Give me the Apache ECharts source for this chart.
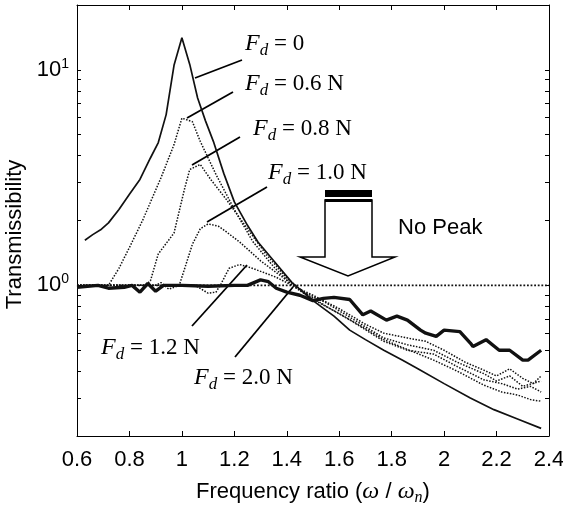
<!DOCTYPE html>
<html>
<head>
<meta charset="utf-8">
<script src="https://cdn.jsdelivr.net/npm/echarts@6/dist/echarts.min.js"></script>
<style>
  html, body { margin: 0; padding: 0; background: #fff; }
  #chart { width: 563px; height: 505px; }
</style>
</head>
<body>
<div id="chart"></div>
<script>
// frequency ratio ticks and transmissibility ticks
const xTicks = [0.6, 0.8, 1, 1.2, 1.4, 1.6, 1.8, 2, 2.2, 2.4];
const yLabelTicks = [1, 10];
const yMinorTicks = [0.2, 0.3, 0.4, 0.5, 0.6, 0.7, 0.8, 0.9, 1, 2, 3, 4, 5, 6, 7, 8, 9, 10, 20];

// measured curves, [frequency ratio, transmissibility]
const fd0 = [[0.63,1.62],[0.66,1.72],[0.69,1.81],[0.72,1.95],[0.76,2.25],[0.8,2.65],[0.84,3.1],[0.88,3.9],
  [0.91,4.6],[0.94,6.2],[0.97,10.5],[1.0,14.1],[1.03,10.6],[1.06,7.4],[1.09,5.8],[1.12,4.66],[1.16,3.3],
  [1.2,2.44],[1.25,1.9],[1.29,1.59],[1.35,1.3],[1.42,1.03],[1.5,0.85],[1.58,0.72],[1.64,0.62],[1.7,0.56],
  [1.77,0.5],[1.84,0.45],[1.9,0.41],[2.0,0.35],[2.1,0.3],[2.19,0.265],[2.28,0.24],[2.37,0.217]];
const fd06 = [[0.6,1],[0.72,1],[0.76,1.2],[0.8,1.5],[0.85,2.0],[0.92,3.15],[0.97,4.5],[1.0,5.97],[1.04,5.75],
  [1.07,4.66],[1.13,3.27],[1.2,2.25],[1.27,1.6],[1.35,1.22],[1.42,1.0],[1.5,0.86],[1.6,0.74],[1.7,0.63],
  [1.77,0.56],[1.85,0.51],[1.96,0.45],[2.05,0.4],[2.15,0.345],[2.22,0.32],[2.28,0.31],[2.33,0.295],[2.37,0.29]];
const fd08 = [[0.6,1],[0.86,1],[0.88,1.05],[0.91,1.4],[0.97,1.75],[1.01,2.8],[1.03,3.45],[1.07,3.64],[1.11,3.1],
  [1.17,2.5],[1.25,1.83],[1.32,1.4],[1.4,1.08],[1.47,0.92],[1.55,0.8],[1.65,0.68],[1.77,0.55],[1.86,0.5],
  [1.96,0.48],[2.05,0.42],[2.15,0.365],[2.22,0.35],[2.28,0.33],[2.33,0.34],[2.37,0.32]];
const fd10 = [[0.6,1],[0.9,1],[0.92,1.03],[0.95,0.96],[0.99,1.0],[1.02,1.3],[1.04,1.55],[1.07,1.83],[1.1,1.93],
  [1.14,1.88],[1.17,1.77],[1.22,1.59],[1.3,1.3],[1.38,1.1],[1.45,0.95],[1.55,0.83],[1.65,0.7],[1.77,0.57],
  [1.86,0.53],[1.96,0.5],[2.05,0.44],[2.15,0.39],[2.2,0.36],[2.25,0.38],[2.3,0.34],[2.37,0.36]];
const fd12 = [[0.6,1],[1.05,1],[1.1,0.92],[1.13,0.93],[1.15,1.02],[1.18,1.2],[1.22,1.25],[1.26,1.21],[1.31,1.15],
  [1.36,1.09],[1.42,1.0],[1.5,0.9],[1.6,0.78],[1.7,0.66],[1.77,0.6],[1.86,0.57],[1.93,0.55],[2.0,0.5],
  [2.08,0.44],[2.15,0.405],[2.2,0.38],[2.25,0.41],[2.3,0.37],[2.34,0.35],[2.37,0.38]];
const fd20 = [[0.6,0.98],[0.68,1.0],[0.72,0.97],[0.78,0.98],[0.81,1.0],[0.84,0.93],[0.87,1.02],[0.9,0.94],
  [0.93,1.0],[1.0,1.0],[1.1,0.99],[1.2,1.0],[1.25,1.0],[1.3,1.06],[1.33,1.04],[1.36,0.97],[1.4,0.93],
  [1.45,0.9],[1.5,0.85],[1.54,0.87],[1.58,0.88],[1.64,0.86],[1.69,0.73],[1.72,0.76],[1.78,0.69],[1.82,0.72],
  [1.86,0.69],[1.91,0.62],[1.93,0.6],[1.97,0.58],[2.0,0.62],[2.06,0.61],[2.1,0.54],[2.11,0.52],[2.16,0.56],
  [2.21,0.5],[2.25,0.5],[2.3,0.45],[2.32,0.45],[2.37,0.5]];
const unity = [[0.6,1],[2.4,1]];

const chart = echarts.init(document.getElementById('chart'));

const serif = 'Liberation Serif';
const sans = 'Liberation Sans';
const fdRich = {
  f: { fontFamily: serif, fontStyle: 'italic', fontSize: 24, color: '#000' },
  d: { fontFamily: serif, fontStyle: 'italic', fontSize: 17, color: '#000', padding: [14, 0, 0, 0], verticalAlign: 'bottom' },
  t: { fontFamily: serif, fontSize: 23, color: '#000' }
};
function fdLabel(x, y, val) {
  return {
    type: 'text', x: x, y: y,
    style: { text: '{f|F}{d|d}{t| = ' + val + '}', rich: fdRich, verticalAlign: 'middle' }
  };
}
function leader(x1, y1, x2, y2) {
  return { type: 'line', shape: { x1: x1, y1: y1, x2: x2, y2: y2 }, style: { stroke: '#000', lineWidth: 1.8 } };
}

function line(name, data, type, width) {
  return {
    name: name, type: 'line', data: data, showSymbol: false, symbol: 'none',
    lineStyle: { color: '#111', width: width, type: type }, z: 3
  };
}

chart.setOption({
  animation: false,
  backgroundColor: '#fff',
  grid: { left: 77, right: 14, top: 5, bottom: 69, outerBoundsMode: 'none', containLabel: false },
  xAxis: [{
    type: 'value', min: 0.6, max: 2.4, interval: 0.2,
    name: '{a|Frequency ratio (}{w|ω}{a| / }{w|ω}{n|n}{a|)}',
    nameLocation: 'middle', nameGap: 42,
    nameTextStyle: {
      rich: {
        a: { fontFamily: sans, fontSize: 22, color: '#000' },
        w: { fontFamily: serif, fontStyle: 'italic', fontSize: 24, color: '#000' },
        n: { fontFamily: serif, fontStyle: 'italic', fontSize: 16, color: '#000', padding: [12, 0, 0, 0], verticalAlign: 'bottom' }
      }
    },
    axisLine: { lineStyle: { color: '#000', width: 1 } },
    axisTick: { inside: true, length: 5, lineStyle: { color: '#000' }, customValues: xTicks },
    axisLabel: { customValues: xTicks, fontFamily: sans, fontSize: 22, color: '#000', margin: 13,
      formatter: v => String(+v.toFixed(1)) },
    splitLine: { show: false }
  }, {
    type: 'value', min: 0.6, max: 2.4, interval: 0.2, position: 'top',
    axisLine: { lineStyle: { color: '#000', width: 1 } },
    axisTick: { inside: true, length: 5, lineStyle: { color: '#000' } },
    axisLabel: { show: false }, splitLine: { show: false }
  }],
  yAxis: [{
    type: 'log', logBase: 10, min: 0.2, max: 20,
    name: 'Transmissibility', nameLocation: 'middle', nameGap: 47,
    nameTextStyle: { fontFamily: sans, fontSize: 22, color: '#000', padding: [0, 28, 0, 0] },
    axisLine: { show: true, lineStyle: { color: '#000', width: 1 } },
    axisTick: { inside: true, length: 4, lineStyle: { color: '#000' }, customValues: yMinorTicks },
    axisLabel: {
      customValues: yLabelTicks, margin: 8,
      formatter: v => '{b|10}{s|' + Math.round(Math.log10(v)) + '}',
      rich: {
        b: { fontFamily: sans, fontSize: 22, color: '#000', lineHeight: 26 },
        s: { fontFamily: sans, fontSize: 14, color: '#000', verticalAlign: 'top', lineHeight: 15 }
      }
    },
    splitLine: { show: false }
  }, {
    type: 'log', logBase: 10, min: 0.2, max: 20, position: 'right',
    axisLine: { show: true, lineStyle: { color: '#000', width: 1 } },
    axisTick: { inside: true, length: 4, lineStyle: { color: '#000' }, customValues: yMinorTicks },
    axisLabel: { show: false }, splitLine: { show: false }
  }],
  series: [
    line('unity', unity, 'dotted', 1.8),
    line('Fd = 0', fd0, 'solid', 1.7),
    line('Fd = 0.6 N', fd06, 'dotted', 1.5),
    line('Fd = 0.8 N', fd08, 'dotted', 1.5),
    line('Fd = 1.0 N', fd10, 'dotted', 1.5),
    line('Fd = 1.2 N', fd12, 'dotted', 1.5),
    line('Fd = 2.0 N', fd20, 'solid', 3.4)
  ],
  graphic: [
    fdLabel(245, 44, '0'),
    fdLabel(245, 84, '0.6 N'),
    fdLabel(253, 129, '0.8 N'),
    fdLabel(268, 173, '1.0 N'),
    fdLabel(101, 348, '1.2 N'),
    fdLabel(194, 378, '2.0 N'),
    leader(195, 78, 242, 60),
    leader(187, 118, 233, 92),
    leader(192, 165, 240, 137),
    leader(207, 222, 267, 187),
    leader(192, 326, 247, 265),
    leader(235, 357, 293, 287),
    { type: 'polygon', z: 10,
      shape: { points: [[325, 200], [372, 200], [372, 257], [395, 257], [348, 276], [300, 257], [325, 257]] },
      style: { fill: '#fff', stroke: '#000', lineWidth: 1.5 } },
    { type: 'rect', z: 11, shape: { x: 325, y: 190, width: 47, height: 7 }, style: { fill: '#000' } },
    { type: 'rect', z: 11, shape: { x: 325, y: 199, width: 47, height: 3 }, style: { fill: '#000' } },
    { type: 'text', x: 398, y: 228,
      style: { text: 'No Peak', fontFamily: sans, fontSize: 22, fill: '#000', verticalAlign: 'middle' } }
  ]
});
</script>
</body>
</html>
